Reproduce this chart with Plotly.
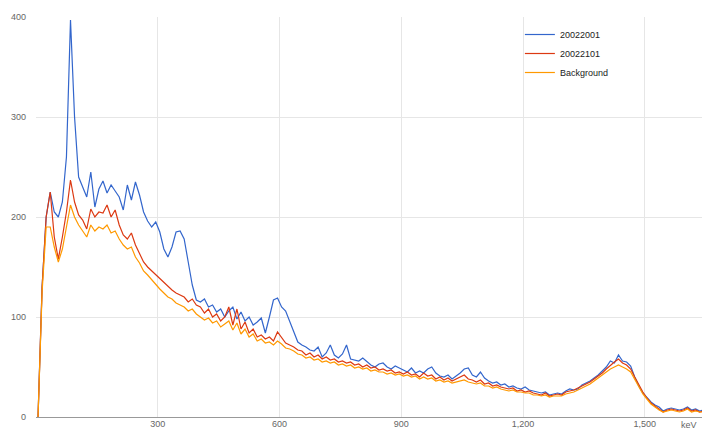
import plotly.graph_objects as go

# Energy bins (keV, bin centres)
energy_kev = [5 + 10 * i for i in range(166)]

series_20022001 = [
    0, 130, 200, 225, 205, 200, 215, 260, 397, 300,
    240, 230, 220, 245, 210, 228, 236, 224, 232, 226,
    220, 207, 232, 217, 235, 222, 205, 196, 190, 195,
    185, 168, 160, 170, 185, 186, 178, 155, 132, 117,
    115, 118, 110, 112, 105, 108, 100, 106, 110, 98,
    105, 96, 100, 92, 95, 99, 84, 100, 117, 119,
    110, 106, 96, 85, 75, 72, 70, 67, 66, 70,
    60, 64, 72, 62, 59, 63, 72, 58, 57, 56,
    59, 55, 52, 50, 53, 54, 50, 48, 51, 49,
    47, 45, 49, 44, 46, 44, 48, 50, 44, 41,
    40, 42, 38, 41, 44, 48, 49, 42, 40, 45,
    39, 36, 34, 35, 32, 33, 30, 31, 29, 28,
    30, 27, 26, 25, 24, 25, 22, 23, 24, 23,
    26, 28, 27, 28, 32, 34, 36, 39, 42, 46,
    50, 56, 54, 62, 56, 55, 51, 40, 31, 24,
    19, 15, 12, 10, 6, 8, 9, 8, 7, 8,
    10, 7, 8, 6, 7, 6,
]

series_20022101 = [
    0, 130, 200, 225, 180, 158, 180, 205, 237, 215,
    202, 197, 188, 208, 200, 205, 204, 212, 200, 207,
    192, 182, 178, 184, 172, 163, 155, 150, 146, 142,
    138, 134, 130, 127, 124, 122, 120, 115, 118, 112,
    110, 104, 108, 100, 103, 96, 100, 110, 92, 108,
    88, 95, 84, 88, 80, 82, 78, 80, 76, 85,
    80, 74, 72, 70, 67, 66, 62, 64, 60, 62,
    58, 60, 57, 58, 55, 56, 54, 55, 52, 53,
    50, 52, 49, 50, 47, 48, 46, 47, 44, 45,
    43, 45, 42, 43, 40, 44, 41, 42, 38, 40,
    37, 39, 36, 38, 40, 42, 38, 37, 35, 37,
    33, 34, 31, 32, 30, 29, 28, 29, 26, 27,
    25, 26, 24, 23, 22, 24, 21, 22, 23, 22,
    25, 26, 27, 29, 31, 33, 35, 38, 41, 44,
    48, 52, 55, 58, 54, 52, 48, 40, 32, 25,
    19, 14, 11, 8, 5, 7, 8, 7, 6, 7,
    9, 6, 7, 5, 6, 5,
]

series_background = [
    0, 125, 190, 190, 170, 155, 168, 190, 212, 200,
    192, 186, 180, 192, 186, 190, 188, 192, 184, 186,
    178, 172, 168, 170, 160, 154, 146, 142, 137, 132,
    128, 124, 120, 118, 114, 112, 110, 106, 108, 103,
    100, 97, 99, 94, 96, 90, 93, 96, 87, 94,
    83, 88, 80, 83, 76, 78, 74, 75, 72, 76,
    73, 69, 68, 66, 63, 62, 59, 60, 57, 58,
    55, 56, 54, 55, 52, 53, 51, 52, 49, 50,
    48, 49, 46, 47, 45, 45, 43, 44, 42, 43,
    41, 42, 40, 41, 38, 40, 38, 39, 36, 37,
    35, 36, 34, 35, 36, 37, 35, 34, 33, 34,
    31, 31, 29, 30, 28, 27, 26, 27, 25, 25,
    24, 24, 22, 22, 21, 22, 20, 21, 21, 21,
    23, 24, 25, 27, 29, 31, 33, 36, 39, 42,
    45, 48, 50, 52, 50, 48, 45, 38, 30, 23,
    18, 13, 10, 7, 5, 6, 7, 6, 5, 6,
    8, 5, 6, 5, 5, 4,
]

series_names = ["20022001", "20022101", "Background"]
series_colors = ["#3366cc", "#dc3912", "#ff9900"]

x_tick_vals = [300, 600, 900, 1200, 1500]
x_tick_text = ["300", "600", "900", "1,200", "1,500"]
y_tick_vals = [0, 100, 200, 300, 400]

fig = go.Figure()
for name, vals, col in zip(series_names,
                           [series_20022001, series_20022101, series_background],
                           series_colors):
    fig.add_trace(go.Scatter(x=energy_kev, y=vals, name=name, mode="lines",
                             line=dict(color=col, width=1.2)))

fig.update_layout(
    width=702, height=424,
    margin=dict(l=28, r=1, t=9, b=15, autoexpand=False),
    paper_bgcolor="white", plot_bgcolor="white",
    font=dict(family="Liberation Sans, Arial, sans-serif", size=9, color="#666"),
    legend=dict(x=0.719, y=0.9925, xanchor="left", yanchor="top",
                bgcolor="rgba(0,0,0,0)", font=dict(size=9, color="#222"),
                tracegroupgap=0),
    xaxis=dict(range=[0, 1658], tickvals=x_tick_vals, ticktext=x_tick_text,
               showgrid=True, gridcolor="#e6e6e6", zeroline=False,
               showline=False, ticks="", ticklen=0, automargin=False),
    yaxis=dict(range=[0, 400], tickvals=y_tick_vals, showgrid=True,
               gridcolor="#e6e6e6", zeroline=True, zerolinecolor="#999",
               zerolinewidth=1, showline=False, ticks="",
               ticklabelstandoff=9, automargin=False),
    annotations=[dict(text="keV", x=1.0, y=0, xref="paper", yref="paper",
                      xanchor="right", yanchor="top", yshift=-1, xshift=-10,
                      showarrow=False, font=dict(size=9, color="#666"))],
)

fig.write_html("out.html")
